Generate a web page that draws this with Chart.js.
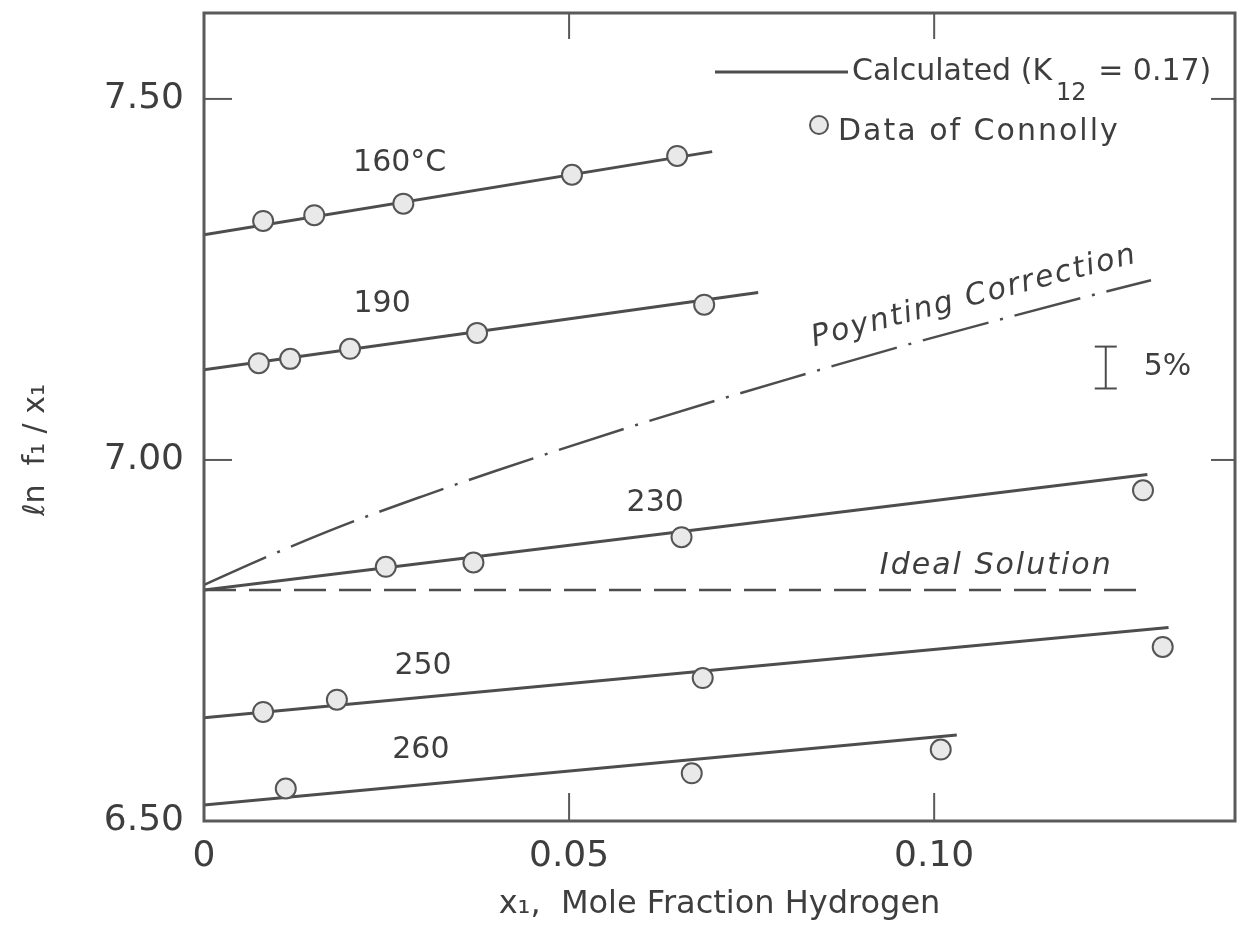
<!DOCTYPE html>
<html><head><meta charset="utf-8">
<script src="https://cdn.jsdelivr.net/npm/chart.js@4.4.0/dist/chart.umd.min.js"></script>
<style>html,body{margin:0;padding:0;background:#fff;}#wrap{width:1237px;height:935px;}</style>
</head><body><div id="wrap"><canvas id="c" width="1237" height="935"></canvas></div>
<script>
// ---- tick values / labels ----
const xTicks = [0, 0.05, 0.10];
const xTickLabels = ['0', '0.05', '0.10'];
const yTicks = [6.5, 7.0, 7.5];
const yTickLabels = ['6.50', '7.00', '7.50'];

// ---- calculated lines (K12 = 0.17) ----
const line160X = [0, 0.0696];   const line160Y = [7.312, 7.427];
const line190X = [0, 0.0759];   const line190Y = [7.125, 7.232];
const line230X = [0, 0.1292];   const line230Y = [6.820, 6.980];
const line250X = [0, 0.1321];   const line250Y = [6.643, 6.768];
const line260X = [0, 0.1031];   const line260Y = [6.522, 6.619];

// ---- reference curves ----
const idealX = [0, 0.1280];     const idealY = [6.820, 6.820];
const poyntingX = [0, 0.0075, 0.0187, 0.030, 0.040, 0.060, 0.080, 0.0954, 0.1103, 0.1235, 0.1297];
const poyntingY = [6.827, 6.861, 6.908, 6.950, 6.985, 7.051, 7.112, 7.157, 7.198, 7.233, 7.249];

// ---- data of Connolly ----
const data160X = [0.0081, 0.0151, 0.0273, 0.0504, 0.0648];
const data160Y = [7.331, 7.339, 7.355, 7.395, 7.421];
const data190X = [0.0075, 0.0118, 0.0200, 0.0374, 0.0685];
const data190Y = [7.134, 7.140, 7.154, 7.176, 7.215];
const data230X = [0.0249, 0.0369, 0.0654, 0.1286];
const data230Y = [6.852, 6.858, 6.893, 6.958];
const data250X = [0.0081, 0.0182, 0.0683, 0.1313];
const data250Y = [6.651, 6.668, 6.698, 6.741];
const data260X = [0.0112, 0.0668, 0.1009];
const data260Y = [6.545, 6.566, 6.599];

// ---- 5% scale bar ----
const errBarX = 0.1235; const errBarLow = 7.099; const errBarHigh = 7.157;

// ---- curve labels ----
const curveLabels = ['160°C', '190', '230', '250', '260'];
const curveLabelX = [0.0268, 0.0244, 0.0618, 0.0300, 0.0297];
const curveLabelY = [7.411, 7.216, 6.940, 6.715, 6.598];

const pts = (xs, ys) => xs.map((v, i) => ({x: v, y: ys[i]}));
const INK = '#4d4d4d';
const FONT = "'DejaVu Sans', 'Liberation Sans', sans-serif";

function lineDS(label, xs, ys, extra) {
  return Object.assign({type: 'line', label, data: pts(xs, ys), borderColor: INK, borderWidth: 3,
    pointRadius: 0, fill: false, tension: 0, order: 2}, extra || {});
}
function dotDS(label, xs, ys) {
  return {type: 'scatter', label, data: pts(xs, ys), showLine: false, pointRadius: 10,
    pointBorderWidth: 2, pointBorderColor: '#555', pointBackgroundColor: '#e9e9e9', order: 1};
}
function zeroPad(s) { s.paddingTop = 0; s.paddingBottom = 0; s.paddingLeft = 0; s.paddingRight = 0; }
function setSpacing(ctx, v) { try { ctx.letterSpacing = v; } catch (e) {} }

const annot = {
  id: 'annot',
  afterDraw(chart) {
    const {ctx, chartArea: a, scales: {x, y}} = chart;
    ctx.save();
    const seg = (x1, y1, x2, y2) => { ctx.beginPath(); ctx.moveTo(x1, y1); ctx.lineTo(x2, y2); ctx.stroke(); };
    // frame
    ctx.strokeStyle = '#5a5a5a'; ctx.lineWidth = 3;
    ctx.strokeRect(a.left, a.top, a.right - a.left, a.bottom - a.top);
    // inward ticks
    ctx.lineWidth = 2;
    xTicks.slice(1).forEach(v => { const p = x.getPixelForValue(v); seg(p, a.bottom, p, a.bottom - 28); seg(p, a.top, p, a.top + 26); });
    yTicks.slice(1).forEach(v => { const p = y.getPixelForValue(v); seg(a.left, p, a.left + 28, p); seg(a.right, p, a.right - 24, p); });

    ctx.fillStyle = '#3e3e3e';
    ctx.textAlign = 'center'; ctx.textBaseline = 'middle';
    // curve labels
    ctx.font = '30px ' + FONT;
    curveLabels.forEach((t, i) => ctx.fillText(t, x.getPixelForValue(curveLabelX[i]), y.getPixelForValue(curveLabelY[i])));
    // Ideal Solution
    ctx.font = 'italic 30px ' + FONT;
    setSpacing(ctx, '2px');
    ctx.fillText('Ideal Solution', x.getPixelForValue(0.1085), y.getPixelForValue(6.853));
    // Poynting Correction
    ctx.save();
    ctx.translate(x.getPixelForValue(0.1055), y.getPixelForValue(7.226));
    ctx.rotate(-0.255);
    ctx.fillText('Poynting Correction', 0, 0);
    ctx.restore();
    setSpacing(ctx, '0px');
    // 5% bar
    const ex = x.getPixelForValue(errBarX), e1 = y.getPixelForValue(errBarHigh), e2 = y.getPixelForValue(errBarLow);
    ctx.strokeStyle = INK; ctx.lineWidth = 2;
    seg(ex, e1, ex, e2); seg(ex - 11, e1, ex + 11, e1); seg(ex - 11, e2, ex + 11, e2);
    ctx.font = '30px ' + FONT; ctx.textAlign = 'left';
    ctx.fillText('5%', ex + 38, (e1 + e2) / 2);

    // legend
    ctx.textBaseline = 'alphabetic';
    ctx.lineWidth = 3;
    seg(715, 72, 848, 72);
    ctx.font = '30px ' + FONT;
    ctx.fillText('Calculated (K', 852, 80);
    let w = ctx.measureText('Calculated (K').width;
    ctx.font = '24px ' + FONT;
    ctx.fillText('12', 852 + w + 4, 100);
    let w2 = ctx.measureText('12').width;
    ctx.font = '30px ' + FONT;
    ctx.fillText(' = 0.17)', 852 + w + 6 + w2, 80);
    ctx.beginPath(); ctx.arc(819, 125, 9, 0, Math.PI * 2);
    ctx.fillStyle = '#e9e9e9'; ctx.fill(); ctx.strokeStyle = '#555'; ctx.lineWidth = 2; ctx.stroke();
    ctx.fillStyle = '#3e3e3e';
    setSpacing(ctx, '2px');
    ctx.fillText('Data of Connolly', 838, 140);
    setSpacing(ctx, '0px');

    // y axis title
    ctx.save();
    ctx.translate(36, 450); ctx.rotate(-Math.PI / 2);
    ctx.textAlign = 'center'; ctx.textBaseline = 'middle';
    ctx.font = '30px ' + FONT;
    ctx.fillText('ℓn  f₁ / x₁', 0, 0);
    ctx.restore();
    ctx.restore();
  }
};

new Chart(document.getElementById('c'), {
  type: 'scatter',
  data: {datasets: [
    lineDS('Calculated 160°C', line160X, line160Y),
    lineDS('Calculated 190', line190X, line190Y),
    lineDS('Calculated 230', line230X, line230Y),
    lineDS('Calculated 250', line250X, line250Y),
    lineDS('Calculated 260', line260X, line260Y),
    lineDS('Ideal Solution', idealX, idealY, {borderDash: [32, 13], borderWidth: 2.5}),
    lineDS('Poynting Correction', poyntingX, poyntingY, {borderDash: [68, 12, 3, 12], borderWidth: 2.5, cubicInterpolationMode: 'monotone'}),
    dotDS('Data 160°C', data160X, data160Y),
    dotDS('Data 190', data190X, data190Y),
    dotDS('Data 230', data230X, data230Y),
    dotDS('Data 250', data250X, data250Y),
    dotDS('Data 260', data260X, data260Y)
  ]},
  options: {
    responsive: false, animation: false,
    layout: {autoPadding: false, padding: {top: 13, right: 2, left: 0, bottom: 0}},
    plugins: {legend: {display: false}, tooltip: {enabled: false}},
    scales: {
      x: {type: 'linear', min: 0, max: 0.1412,
        afterFit(s) { s.height = 114; zeroPad(s); },
        afterBuildTicks(s) { s.ticks = xTicks.map(v => ({value: v})); },
        grid: {display: false, drawTicks: false}, border: {display: false},
        ticks: {callback: (v, i) => xTickLabels[i], autoSkip: false, maxRotation: 0, padding: 14,
          color: '#3e3e3e', font: {family: FONT, size: 36}},
        title: {display: true, text: 'x₁,  Mole Fraction Hydrogen', color: '#3e3e3e',
          font: {family: FONT, size: 32}, padding: {top: 0, bottom: 11}}
      },
      y: {type: 'linear', min: 6.5, max: 7.619,
        afterFit(s) { s.width = 204; zeroPad(s); },
        afterBuildTicks(s) { s.ticks = yTicks.map(v => ({value: v})); },
        grid: {display: false, drawTicks: false}, border: {display: false},
        ticks: {callback: (v, i) => yTickLabels[i], autoSkip: false, padding: 20,
          color: '#3e3e3e', font: {family: FONT, size: 36}}
      }
    }
  },
  plugins: [annot]
});
</script></body></html>
